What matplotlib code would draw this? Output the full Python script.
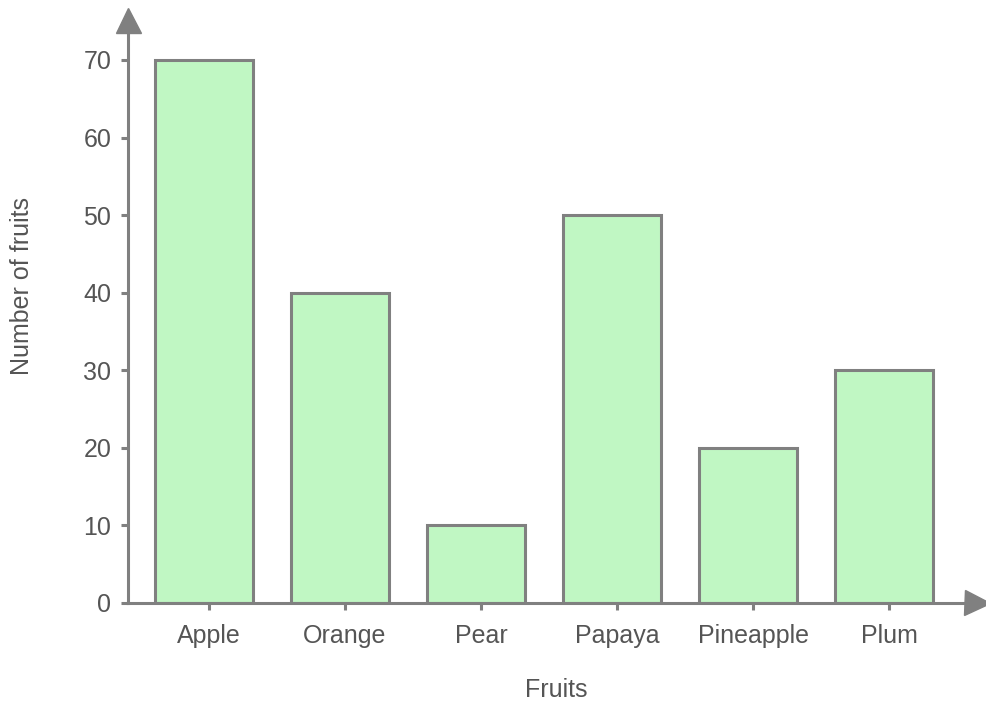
import matplotlib
matplotlib.use('Agg')
import matplotlib.pyplot as plt

fruits = ['Apple', 'Orange', 'Pear', 'Papaya', 'Pineapple', 'Plum']
counts = [70, 40, 10, 50, 20, 30]
yticks = [0, 10, 20, 30, 40, 50, 60, 70]

plt.rcParams['font.family'] = ['Liberation Sans', 'DejaVu Sans']
gray = '#808080'
txt = '#555555'

fig = plt.figure(figsize=(9.86, 7.07), dpi=100)
ax = fig.add_axes([128/986, 1 - 603/707, (970-128)/986, (603-32)/707])

xpos = list(range(len(fruits)))
ax.bar(xpos, counts, width=0.72, color='#c0f7c3', edgecolor=gray, linewidth=2.2, zorder=2)

ax.set_xlim(-0.559, 5.632)
ax.set_ylim(0, 73.6)
# ticks sit a few pixels right of the bar centres in the original
ax.set_xticks([x + 0.037 for x in xpos])
ax.set_xticklabels(fruits)
ax.set_yticks(yticks)

for s in ['top', 'right']:
    ax.spines[s].set_visible(False)
for s in ['left', 'bottom']:
    ax.spines[s].set_color(gray)
    ax.spines[s].set_linewidth(2.2)
    ax.spines[s].set_zorder(3)

ax.tick_params(axis='both', colors=gray, width=2.2, length=5, labelsize=18, labelcolor=txt)
ax.tick_params(axis='y', pad=7)
ax.tick_params(axis='x', pad=10)

# arrow heads on the axes
ax.plot([-0.559], [75.2], marker='^', markersize=18, color=gray, clip_on=False, zorder=4)
ax.plot([5.687], [0], marker='>', markersize=18, color=gray, clip_on=False, zorder=4)

fig.text(556/986, 1 - 690/707, 'Fruits', ha='center', va='center', fontsize=18, color=txt)
fig.text(22/986, 1 - 286/707, 'Number of fruits', ha='center', va='center', rotation=90, fontsize=18, color=txt)

fig.savefig('out.png', dpi=100)
